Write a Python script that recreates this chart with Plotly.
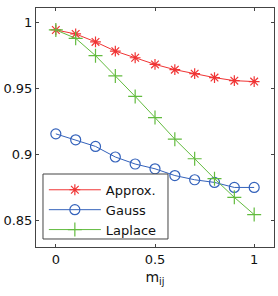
import plotly.graph_objects as go

x = [0, 0.1, 0.2, 0.3, 0.4, 0.5, 0.6, 0.7, 0.8, 0.9, 1.0]
approx = [0.994, 0.991, 0.985, 0.978, 0.973, 0.968, 0.964, 0.961, 0.958, 0.9557, 0.955]
gauss = [0.9155, 0.911, 0.906, 0.898, 0.8927, 0.8891, 0.884, 0.8808, 0.8788, 0.875, 0.875]
laplace = [0.994, 0.9877, 0.9746, 0.9593, 0.9438, 0.9278, 0.9115, 0.8967, 0.8816, 0.8675, 0.8545]
x_ticks = [0, 0.5, 1]
x_tick_text = ["0", "0.5", "1"]
y_ticks = [0.85, 0.9, 0.95, 1]
y_tick_text = ["0.85", "0.9", "0.95", "1"]

RED = "#f03434"
BLUE = "#3462bb"
GREEN = "#62bb3e"
FONT = "DejaVu Sans"

fig = go.Figure()
fig.add_trace(go.Scatter(x=x, y=approx, name="Approx.", mode="lines+markers",
                         line=dict(color=RED, width=1),
                         marker=dict(symbol="asterisk-open", size=9, color=RED, line=dict(color=RED, width=1.2))))
fig.add_trace(go.Scatter(x=x, y=gauss, name="Gauss", mode="lines+markers",
                         line=dict(color=BLUE, width=1),
                         marker=dict(symbol="circle-open", size=10, color=BLUE, line=dict(color=BLUE, width=1.2))))
fig.add_trace(go.Scatter(x=x, y=laplace, name="Laplace", mode="lines+markers",
                         line=dict(color=GREEN, width=1),
                         marker=dict(symbol="cross-thin-open", size=10, color=GREEN, line=dict(color=GREEN, width=1.2))))

axis_common = dict(showgrid=False, zeroline=False, showline=True, linecolor="#444", linewidth=1,
                   mirror="ticks", ticks="inside", ticklen=3, tickcolor="#444", automargin=False,
                   tickfont=dict(family=FONT, size=13, color="#111"))
fig.update_xaxes(range=[-0.1, 1.1], tickvals=x_ticks, ticktext=x_tick_text,
                 title=dict(text="m<sub>ij</sub>", font=dict(family=FONT, size=14, color="#111"), standoff=6),
                 **axis_common)
fig.update_yaxes(range=[0.83, 1.0106], tickvals=y_ticks, ticktext=y_tick_text, **axis_common)

# legend box (MATLAB style), drawn above the traces
fig.add_shape(type="rect", xref="paper", yref="paper", x0=0.0294, x1=0.5546, y0=0.0335, y1=0.3054,
              line=dict(color="#444", width=1), fillcolor="white", layer="above")

fig.update_layout(width=278, height=296, margin=dict(l=36, r=4, t=8, b=49, pad=0),
                  autosize=False,
                  plot_bgcolor="white", paper_bgcolor="white",
                  font=dict(family=FONT, size=14, color="#111"),
                  showlegend=True,
                  legend=dict(x=0.033, y=0.302, xanchor="left", yanchor="top",
                              bgcolor="rgba(0,0,0,0)", borderwidth=0,
                              font=dict(family=FONT, size=13, color="#111"),
                              itemwidth=52, tracegroupgap=0))
fig.write_html("out.html", config={"displayModeBar": False},
               post_script="document.body.style.margin='0';")
